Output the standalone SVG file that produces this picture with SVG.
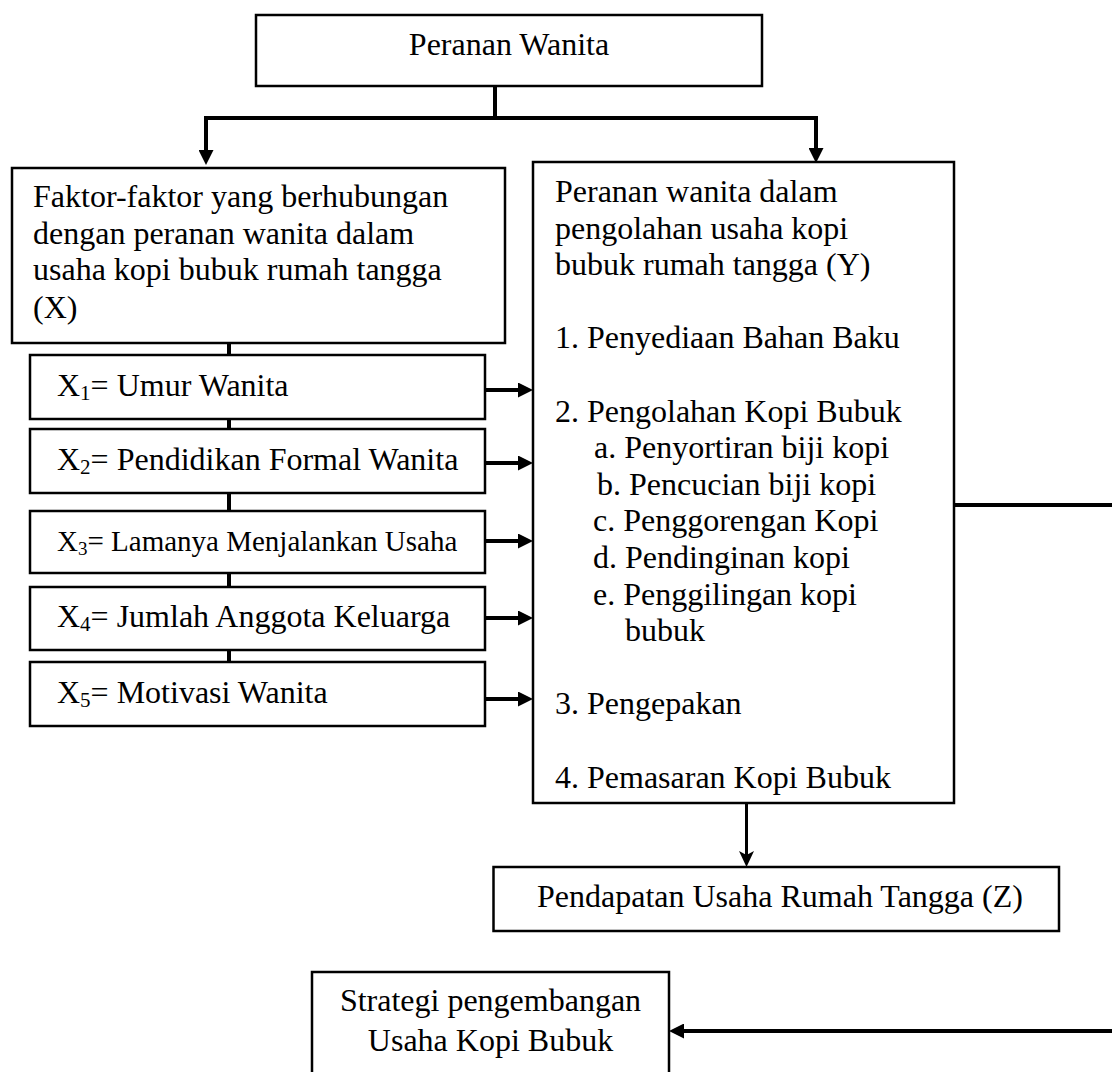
<svg xmlns="http://www.w3.org/2000/svg" width="1112" height="1072" viewBox="0 0 1112 1072">
<style>
  .box { fill: #fff; stroke: #000; stroke-width: 2.5; }
  .t { font-family: "Liberation Serif", "Times New Roman", serif; font-size: 32px; fill: #000; }
  .sm { font-size: 29px; }
  .c { fill: none; stroke: #000; stroke-width: 4; }
  .thin { fill: none; stroke: #000; stroke-width: 3; }
</style>
<defs>
  <marker id="ah" viewBox="0 0 15 15" refX="0" refY="7.5" markerWidth="15" markerHeight="15" markerUnits="userSpaceOnUse" orient="auto">
    <path d="M0,0 L15,7.5 L0,15 z" fill="#000"/>
  </marker>
  <marker id="st" viewBox="0 0 16 15" refX="4" refY="7.5" markerWidth="16" markerHeight="15" markerUnits="userSpaceOnUse" orient="auto">
    <path d="M0,0 L16,7.5 L0,15 L4,7.5 z" fill="#000"/>
  </marker>
</defs>
<rect width="1112" height="1072" fill="#fff"/>

<g id="connectors">
  <path class="c" d="M495,86 V118 H816 V148" marker-end="url(#ah)"/>
  <path class="c" d="M495,118 H206 V150" marker-end="url(#ah)"/>
  <path class="c" d="M229,343 V355 M229,419 V429 M229,493 V511 M229,573 V587 M229,650 V662"/>
  <path class="c" d="M485,390 H518" marker-end="url(#ah)"/>
  <path class="c" d="M485,463 H518" marker-end="url(#ah)"/>
  <path class="c" d="M485,541 H518" marker-end="url(#ah)"/>
  <path class="c" d="M485,618 H518" marker-end="url(#ah)"/>
  <path class="c" d="M485,699 H518" marker-end="url(#ah)"/>
  <path class="thin" d="M746.5,803 V855" marker-end="url(#st)"/>
  <path class="c" d="M954,505 H1114 V1031 H684" marker-end="url(#ah)"/>
</g>

<g id="peranan-wanita">
  <rect class="box" x="256" y="15" width="506" height="71"/>
  <text class="t" x="509" y="55" text-anchor="middle">Peranan Wanita</text>
</g>

<g id="faktor">
  <rect class="box" x="12" y="168" width="493" height="175"/>
  <text class="t" x="33" y="207">Faktor-faktor yang berhubungan</text>
  <text class="t" x="33" y="243.5">dengan peranan wanita dalam</text>
  <text class="t" x="33" y="280">usaha kopi bubuk rumah tangga</text>
  <text class="t" x="33" y="318">(X)</text>
</g>

<g id="x1">
  <rect class="box" x="30" y="355" width="455" height="64"/>
  <text class="t" x="57" y="396">X<tspan font-size="21" dy="4">1</tspan><tspan dy="-4">= Umur Wanita</tspan></text>
</g>
<g id="x2">
  <rect class="box" x="30" y="429" width="455" height="64"/>
  <text class="t" x="57" y="470">X<tspan font-size="21" dy="4">2</tspan><tspan dy="-4">= Pendidikan Formal Wanita</tspan></text>
</g>
<g id="x3">
  <rect class="box" x="30" y="511" width="455" height="62"/>
  <text class="t sm" x="57" y="551">X<tspan font-size="19" dy="4">3</tspan><tspan dy="-4">= Lamanya Menjalankan Usaha</tspan></text>
</g>
<g id="x4">
  <rect class="box" x="30" y="587" width="455" height="63"/>
  <text class="t" x="57" y="627">X<tspan font-size="21" dy="4">4</tspan><tspan dy="-4">= Jumlah Anggota Keluarga</tspan></text>
</g>
<g id="x5">
  <rect class="box" x="30" y="662" width="455" height="64"/>
  <text class="t" x="57" y="703">X<tspan font-size="21" dy="4">5</tspan><tspan dy="-4">= Motivasi Wanita</tspan></text>
</g>

<g id="peranan-y">
  <rect class="box" x="533" y="162" width="421" height="641"/>
  <text class="t" x="555" y="202">Peranan wanita dalam</text>
  <text class="t" x="555" y="238.6">pengolahan usaha kopi</text>
  <text class="t" x="555" y="275.2">bubuk rumah tangga (Y)</text>
  <text class="t" x="555" y="348.4">1. Penyediaan Bahan Baku</text>
  <text class="t" x="555" y="421.6">2. Pengolahan Kopi Bubuk</text>
  <text class="t" x="594" y="458.2">a. Penyortiran biji kopi</text>
  <text class="t" x="597" y="494.8">b. Pencucian biji kopi</text>
  <text class="t" x="593" y="531.4">c. Penggorengan Kopi</text>
  <text class="t" x="593" y="568">d. Pendinginan kopi</text>
  <text class="t" x="593" y="604.6">e. Penggilingan kopi</text>
  <text class="t" x="625" y="641.2">bubuk</text>
  <text class="t" x="555" y="714.4">3. Pengepakan</text>
  <text class="t" x="555" y="787.6">4. Pemasaran Kopi Bubuk</text>
</g>

<g id="pendapatan">
  <rect class="box" x="493.5" y="867" width="565.5" height="64"/>
  <text class="t" x="537" y="907">Pendapatan Usaha Rumah Tangga (Z)</text>
</g>

<g id="strategi">
  <rect class="box" x="312" y="972" width="357" height="110"/>
  <text class="t" x="490.5" y="1011" text-anchor="middle">Strategi pengembangan</text>
  <text class="t" x="490.5" y="1051" text-anchor="middle">Usaha Kopi Bubuk</text>
</g>
</svg>
